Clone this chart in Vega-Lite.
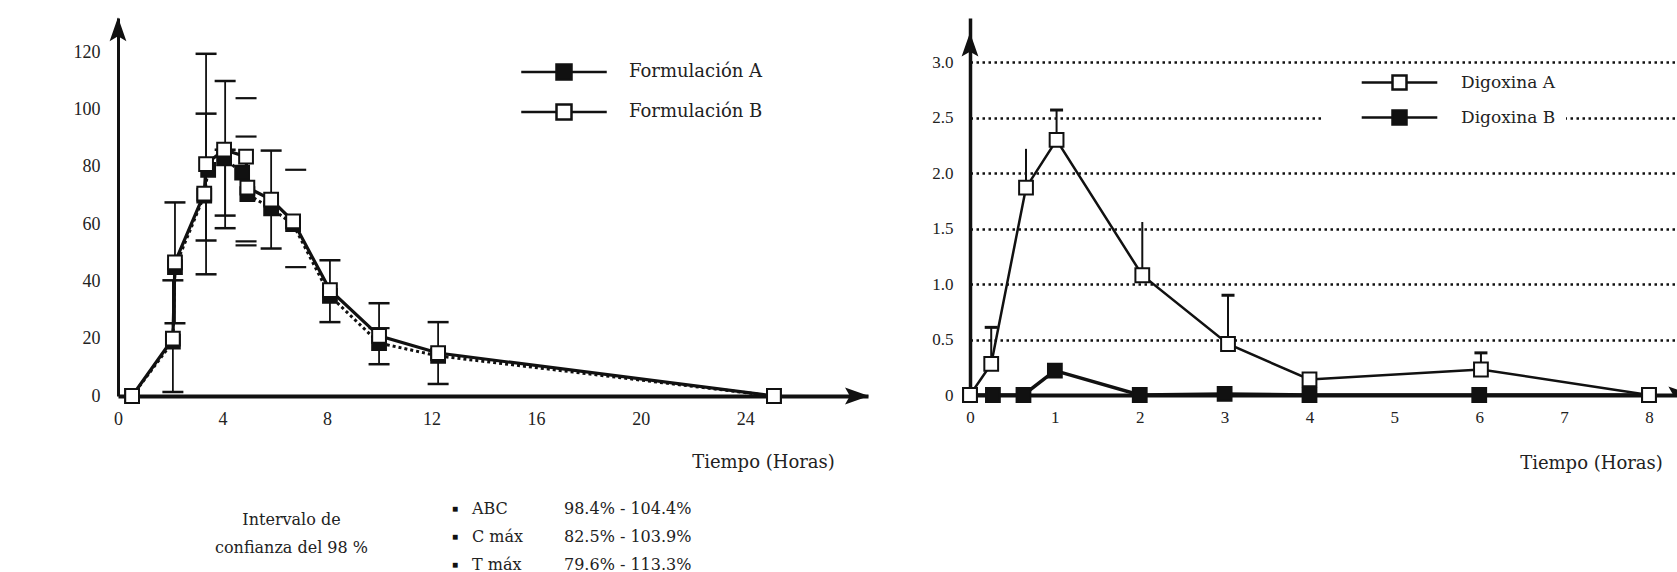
{
  "$schema": "https://vega.github.io/schema/vega-lite/v6.json",
  "background": "white",
  "padding": {"left": 73, "top": 17, "right": 0, "bottom": 0},
  "columns": 2,
  "spacing": {"row": 85, "column": 102},
  "bounds": "flush",
  "config": {
    "view": {"stroke": null},
    "font": "Liberation Serif",
    "axis": {"labelFlush": false, "labelOverlap": false, "ticks": false, "grid": false, "domainColor": "#111", "labelColor": "#222", "labelFont": "Liberation Serif", "titleFont": "DejaVu Serif", "titleFontWeight": "normal", "titleColor": "#222"},
    "legend": {"labelFont": "DejaVu Serif", "labelColor": "#222"}
  },
  "resolve": {"scale": {"fill": "independent"}, "legend": {"fill": "independent"}},
  "datasets": {
    "formL": [
      {"serie": "Formulación A", "t": 0.54, "c": 0},
      {"serie": "Formulación A", "t": 2.1, "c": 19},
      {"serie": "Formulación A", "t": 2.18, "c": 45},
      {"serie": "Formulación A", "t": 3.3, "c": 70},
      {"serie": "Formulación A", "t": 3.45, "c": 79},
      {"serie": "Formulación A", "t": 4.06, "c": 83},
      {"serie": "Formulación A", "t": 4.75, "c": 78},
      {"serie": "Formulación A", "t": 4.95, "c": 70.5},
      {"serie": "Formulación A", "t": 5.86, "c": 65.5},
      {"serie": "Formulación A", "t": 6.7, "c": 60},
      {"serie": "Formulación A", "t": 8.11, "c": 35},
      {"serie": "Formulación A", "t": 9.99, "c": 18.5},
      {"serie": "Formulación A", "t": 12.25, "c": 14},
      {"serie": "Formulación A", "t": 25.1, "c": 0},
      {"serie": "Formulación B", "t": 0.54, "c": 0},
      {"serie": "Formulación B", "t": 2.1, "c": 20},
      {"serie": "Formulación B", "t": 2.18, "c": 46.7},
      {"serie": "Formulación B", "t": 3.3, "c": 70.7},
      {"serie": "Formulación B", "t": 3.37, "c": 81},
      {"serie": "Formulación B", "t": 4.06, "c": 86},
      {"serie": "Formulación B", "t": 4.9, "c": 83.6},
      {"serie": "Formulación B", "t": 4.95, "c": 72.8},
      {"serie": "Formulación B", "t": 5.86, "c": 68.6},
      {"serie": "Formulación B", "t": 6.7, "c": 61},
      {"serie": "Formulación B", "t": 8.11, "c": 37},
      {"serie": "Formulación B", "t": 9.99, "c": 21},
      {"serie": "Formulación B", "t": 12.25, "c": 15},
      {"serie": "Formulación B", "t": 25.1, "c": 0}
    ],
    "errL": [
      {"t": 2.1, "lo": 1.4, "hi": 40.4},
      {"t": 2.18, "lo": 25.4, "hi": 67.6},
      {"t": 3.37, "lo": 42.5, "hi": 98.6},
      {"t": 3.37, "lo": 54.3, "hi": 119.5},
      {"t": 4.1, "lo": 58.6, "hi": 110},
      {"t": 4.1, "lo": 63, "hi": 86},
      {"t": 5.86, "lo": 51.5, "hi": 85.7},
      {"t": 8.11, "lo": 25.8, "hi": 47.4},
      {"t": 9.99, "lo": 11.1, "hi": 32.4},
      {"t": 12.25, "lo": 4.2, "hi": 25.8}
    ],
    "capsL": [
      {"t": 4.9, "c": 104},
      {"t": 4.9, "c": 90.6},
      {"t": 4.9, "c": 54},
      {"t": 4.9, "c": 52.6},
      {"t": 6.8, "c": 79},
      {"t": 6.8, "c": 45},
      {"t": 9.99, "c": 23.7}
    ],
    "digR": [
      {"serie": "Digoxina B", "t": 0, "c": 0},
      {"serie": "Digoxina B", "t": 0.27, "c": 0},
      {"serie": "Digoxina B", "t": 0.63, "c": 0},
      {"serie": "Digoxina B", "t": 1.0, "c": 0.22},
      {"serie": "Digoxina B", "t": 2.0, "c": 0},
      {"serie": "Digoxina B", "t": 3.0, "c": 0.01},
      {"serie": "Digoxina B", "t": 4.0, "c": 0},
      {"serie": "Digoxina B", "t": 6.0, "c": 0},
      {"serie": "Digoxina B", "t": 8.0, "c": 0},
      {"serie": "Digoxina A", "t": 0, "c": 0},
      {"serie": "Digoxina A", "t": 0.25, "c": 0.28},
      {"serie": "Digoxina A", "t": 0.66, "c": 1.87},
      {"serie": "Digoxina A", "t": 1.02, "c": 2.3},
      {"serie": "Digoxina A", "t": 2.03, "c": 1.08},
      {"serie": "Digoxina A", "t": 3.04, "c": 0.46},
      {"serie": "Digoxina A", "t": 4.0, "c": 0.14},
      {"serie": "Digoxina A", "t": 6.02, "c": 0.23},
      {"serie": "Digoxina A", "t": 8.0, "c": 0}
    ],
    "errR": [
      {"t": 0.25, "lo": 0.28, "hi": 0.61},
      {"t": 0.66, "lo": 1.87, "hi": 2.22},
      {"t": 1.02, "lo": 2.3, "hi": 2.57},
      {"t": 2.03, "lo": 1.08, "hi": 1.56},
      {"t": 3.04, "lo": 0.46, "hi": 0.9},
      {"t": 6.02, "lo": 0.23, "hi": 0.38}
    ],
    "capsR": [
      {"t": 0.25, "c": 0.61},
      {"t": 1.02, "c": 2.57},
      {"t": 3.04, "c": 0.9},
      {"t": 6.02, "c": 0.38}
    ],
    "tabla": [
      {"param": "ABC", "intervalo": "98.4% - 104.4%"},
      {"param": "C máx", "intervalo": "82.5% - 103.9%"},
      {"param": "T máx", "intervalo": "79.6% - 113.3%"}
    ]
  },
  "concat": [
    {
      "width": 750,
      "height": 378,
      "layer": [
        {
          "encoding": {
            "x": {"field": "t", "type": "quantitative", "scale": {"domain": [0, 28.7], "nice": false, "zero": true},
              "axis": {"values": [0, 4, 8, 12, 16, 20, 24], "domainWidth": 4, "labelFontSize": 18, "labelPadding": 14, "title": "Tiempo (Horas)", "titleFontSize": 18, "titleX": 645, "titleY": 66, "titleAlign": "center", "titleBaseline": "middle", "titleAnchor": null}},
            "y": {"field": "c", "type": "quantitative", "scale": {"domain": [0, 132], "nice": false},
              "axis": {"values": [0, 20, 40, 60, 80, 100, 120], "domainWidth": 3, "labelFontSize": 18, "labelPadding": 18, "title": null}}
          },
          "layer": [
            {
              "data": {"name": "formL"},
              "transform": [{"filter": "datum.serie == 'Formulación A'"}],
              "mark": {"type": "line", "color": "#111", "strokeWidth": 3, "strokeDash": [3, 3]},
              "encoding": {}
            },
            {
              "data": {"name": "formL"},
              "transform": [{"filter": "datum.serie == 'Formulación B'"}],
              "mark": {"type": "line", "color": "#111", "strokeWidth": 3.2},
              "encoding": {}
            },
            {
              "data": {"name": "errL"},
              "mark": {"type": "rule", "color": "#111", "strokeWidth": 1.8},
              "encoding": {"y": {"field": "lo", "type": "quantitative"}, "y2": {"field": "hi"}}
            },
            {
              "data": {"name": "errL"},
              "mark": {"type": "tick", "orient": "horizontal", "color": "#111", "size": 21, "thickness": 2.5, "opacity": 1},
              "encoding": {"y": {"field": "lo", "type": "quantitative"}}
            },
            {
              "data": {"name": "errL"},
              "mark": {"type": "tick", "orient": "horizontal", "color": "#111", "size": 21, "thickness": 2.5, "opacity": 1},
              "encoding": {"y": {"field": "hi", "type": "quantitative"}}
            },
            {
              "data": {"name": "capsL"},
              "mark": {"type": "tick", "orient": "horizontal", "color": "#111", "size": 21, "thickness": 2.2, "opacity": 1}
            },
            {
              "data": {"name": "formL"},
              "mark": {"type": "point", "shape": "square", "filled": true, "size": 190, "stroke": "#111", "strokeWidth": 2, "opacity": 1},
              "encoding": {
                "fill": {"field": "serie", "type": "nominal", "scale": {"domain": ["Formulación A", "Formulación B"], "range": ["#111", "#ffffff"]},
                  "legend": {"orient": "none", "legendX": 437, "legendY": 45, "title": null, "padding": 0, "symbolType": "M-5.7,0H-1M1,0H5.7M-1,-1H1V1H-1Z", "symbolSize": 225, "symbolStrokeColor": "#111", "symbolStrokeWidth": 2.5, "labelFontSize": 18, "labelOffset": 56, "rowPadding": 14}}
              }
            }
          ]
        },
        {
          "data": {"values": [{"k": 1}]},
          "mark": {"type": "point", "shape": "M1,0L-1,-0.7L-0.6,0L-1,0.7Z", "filled": true, "color": "#111", "size": 576, "opacity": 1},
          "encoding": {
            "x": {"datum": 28.28, "type": "quantitative", "scale": {"domain": [0, 28.7], "nice": false, "zero": true},
              "axis": {"values": [0, 4, 8, 12, 16, 20, 24], "domainWidth": 4, "labelFontSize": 18, "labelPadding": 14, "title": "Tiempo (Horas)", "titleFontSize": 18, "titleX": 645, "titleY": 66, "titleAlign": "center", "titleBaseline": "middle", "titleAnchor": null}},
            "y": {"datum": 0, "type": "quantitative", "scale": {"domain": [0, 132], "nice": false},
              "axis": {"values": [0, 20, 40, 60, 80, 100, 120], "domainWidth": 3, "labelFontSize": 18, "labelPadding": 18, "title": null}}
          }
        },
        {
          "data": {"values": [{"k": 1}]},
          "mark": {"type": "point", "shape": "M0,-1L0.7,1L0,0.6L-0.7,1Z", "filled": true, "color": "#111", "size": 576, "opacity": 1},
          "encoding": {
            "x": {"datum": 0, "type": "quantitative", "scale": {"domain": [0, 28.7], "nice": false, "zero": true},
              "axis": {"values": [0, 4, 8, 12, 16, 20, 24], "domainWidth": 4, "labelFontSize": 18, "labelPadding": 14, "title": "Tiempo (Horas)", "titleFontSize": 18, "titleX": 645, "titleY": 66, "titleAlign": "center", "titleBaseline": "middle", "titleAnchor": null}},
            "y": {"datum": 128.1, "type": "quantitative", "scale": {"domain": [0, 132], "nice": false},
              "axis": {"values": [0, 20, 40, 60, 80, 100, 120], "domainWidth": 3, "labelFontSize": 18, "labelPadding": 18, "title": null}}
          }
        }
      ]
    },
    {
      "width": 707,
      "height": 377,
      "layer": [
        {
          "encoding": {
            "x": {"field": "t", "type": "quantitative", "scale": {"domain": [0, 8.33], "nice": false, "zero": true},
              "axis": {"values": [0, 1, 2, 3, 4, 5, 6, 7, 8], "domainWidth": 4, "labelFontSize": 17, "labelPadding": 14, "title": "Tiempo (Horas)", "titleFontSize": 18, "titleX": 621, "titleY": 68, "titleAlign": "center", "titleBaseline": "middle", "titleAnchor": null}},
            "y": {"field": "c", "type": "quantitative", "scale": {"domain": [0, 3.4], "nice": false},
              "axis": {"values": [0, 0.5, 1, 1.5, 2, 2.5, 3], "labelExpr": "datum.value == 0 ? '0' : format(datum.value, '.1f')", "domainWidth": 3.5, "labelFontSize": 17, "labelPadding": 17, "title": null, "grid": true, "gridColor": "#111", "gridWidth": 2.5, "gridDash": [2.5, 3.5], "gridOpacity": 1}}
          },
          "layer": [
            {
              "data": {"name": "digR"},
              "transform": [{"filter": "datum.serie == 'Digoxina A'"}],
              "mark": {"type": "line", "color": "#111", "strokeWidth": 2.5},
              "encoding": {}
            },
            {
              "data": {"name": "digR"},
              "transform": [{"filter": "datum.serie == 'Digoxina B'"}],
              "mark": {"type": "line", "color": "#111", "strokeWidth": 3.5},
              "encoding": {}
            },
            {
              "data": {"name": "errR"},
              "mark": {"type": "rule", "color": "#111", "strokeWidth": 2},
              "encoding": {"y": {"field": "lo", "type": "quantitative"}, "y2": {"field": "hi"}}
            },
            {
              "data": {"name": "capsR"},
              "mark": {"type": "tick", "orient": "horizontal", "color": "#111", "size": 13, "thickness": 3, "opacity": 1}
            },
            {
              "data": {"name": "digR"},
              "mark": {"type": "point", "shape": "square", "filled": true, "size": 190, "stroke": "#111", "strokeWidth": 2, "opacity": 1},
              "encoding": {
                "fill": {"field": "serie", "type": "nominal", "scale": {"domain": ["Digoxina A", "Digoxina B"], "range": ["#ffffff", "#111"]},
                  "legend": {"orient": "none", "legendX": 353, "legendY": 46, "title": null, "padding": 10, "fillColor": "white", "symbolType": "M-5.4,0H-1M1,0H5.4M-1,-1H1V1H-1Z", "symbolSize": 196, "symbolOffset": 58, "symbolStrokeColor": "#111", "symbolStrokeWidth": 2.5, "labelFontSize": 17, "labelOffset": 53, "rowPadding": 10}}
              }
            }
          ]
        },
        {
          "data": {"values": [{"k": 1}]},
          "mark": {"type": "point", "shape": "M1,0L-1,-0.7L-0.6,0L-1,0.7Z", "filled": true, "color": "#111", "size": 576, "opacity": 1, "clip": true},
          "encoding": {
            "x": {"datum": 8.37, "type": "quantitative", "scale": {"domain": [0, 8.33], "nice": false, "zero": true},
              "axis": {"values": [0, 1, 2, 3, 4, 5, 6, 7, 8], "domainWidth": 4, "labelFontSize": 17, "labelPadding": 14, "title": "Tiempo (Horas)", "titleFontSize": 18, "titleX": 621, "titleY": 68, "titleAlign": "center", "titleBaseline": "middle", "titleAnchor": null}},
            "y": {"datum": 0, "type": "quantitative", "scale": {"domain": [0, 3.4], "nice": false},
              "axis": {"values": [0, 0.5, 1, 1.5, 2, 2.5, 3], "labelExpr": "datum.value == 0 ? '0' : format(datum.value, '.1f')", "domainWidth": 3.5, "labelFontSize": 17, "labelPadding": 17, "title": null, "grid": true, "gridColor": "#111", "gridWidth": 2.5, "gridDash": [2.5, 3.5], "gridOpacity": 1}}
          }
        },
        {
          "data": {"values": [{"k": 1}]},
          "mark": {"type": "point", "shape": "M0,-1L0.7,1L0,0.6L-0.7,1Z", "filled": true, "color": "#111", "size": 576, "opacity": 1},
          "encoding": {
            "x": {"datum": 0, "type": "quantitative", "scale": {"domain": [0, 8.33], "nice": false, "zero": true},
              "axis": {"values": [0, 1, 2, 3, 4, 5, 6, 7, 8], "domainWidth": 4, "labelFontSize": 17, "labelPadding": 14, "title": "Tiempo (Horas)", "titleFontSize": 18, "titleX": 621, "titleY": 68, "titleAlign": "center", "titleBaseline": "middle", "titleAnchor": null}},
            "y": {"datum": 3.16, "type": "quantitative", "scale": {"domain": [0, 3.4], "nice": false},
              "axis": {"values": [0, 0.5, 1, 1.5, 2, 2.5, 3], "labelExpr": "datum.value == 0 ? '0' : format(datum.value, '.1f')", "domainWidth": 3.5, "labelFontSize": 17, "labelPadding": 17, "title": null, "grid": true, "gridColor": "#111", "gridWidth": 2.5, "gridDash": [2.5, 3.5], "gridOpacity": 1}}
          }
        }
      ]
    },
    {
      "width": 600,
      "height": 90,
      "data": {"name": "tabla"},
      "transform": [{"fold": ["param", "intervalo"], "as": ["col", "txt"]}],
      "encoding": {
        "x": {"field": "col", "type": "nominal", "bandPosition": 0, "scale": {"type": "band", "domain": ["param", "intervalo"], "range": [354, 538], "paddingInner": 0, "paddingOuter": 0}, "axis": null},
        "y": {"field": "param", "type": "nominal", "sort": null, "scale": {"type": "point", "range": [28, 84], "padding": 0},
          "axis": {"title": ["Intervalo de", "confianza del 98 %"], "titleAngle": 0, "titleX": 173, "titleY": 30, "titleAlign": "center", "titleBaseline": "top", "titleLineHeight": 28, "titleFontSize": 16, "labels": false, "domain": false, "ticks": false, "grid": false}}
      },
      "layer": [
        {
          "mark": {"type": "text", "align": "left", "baseline": "middle", "font": "DejaVu Serif", "fontSize": 16, "color": "#222"},
          "encoding": {"text": {"field": "txt"}}
        },
        {
          "transform": [{"filter": "datum.col == 'param'"}],
          "mark": {"type": "text", "text": "■", "align": "center", "baseline": "middle", "dx": -17, "fontSize": 10, "color": "#111"}
        }
      ]
    }
  ]
}
